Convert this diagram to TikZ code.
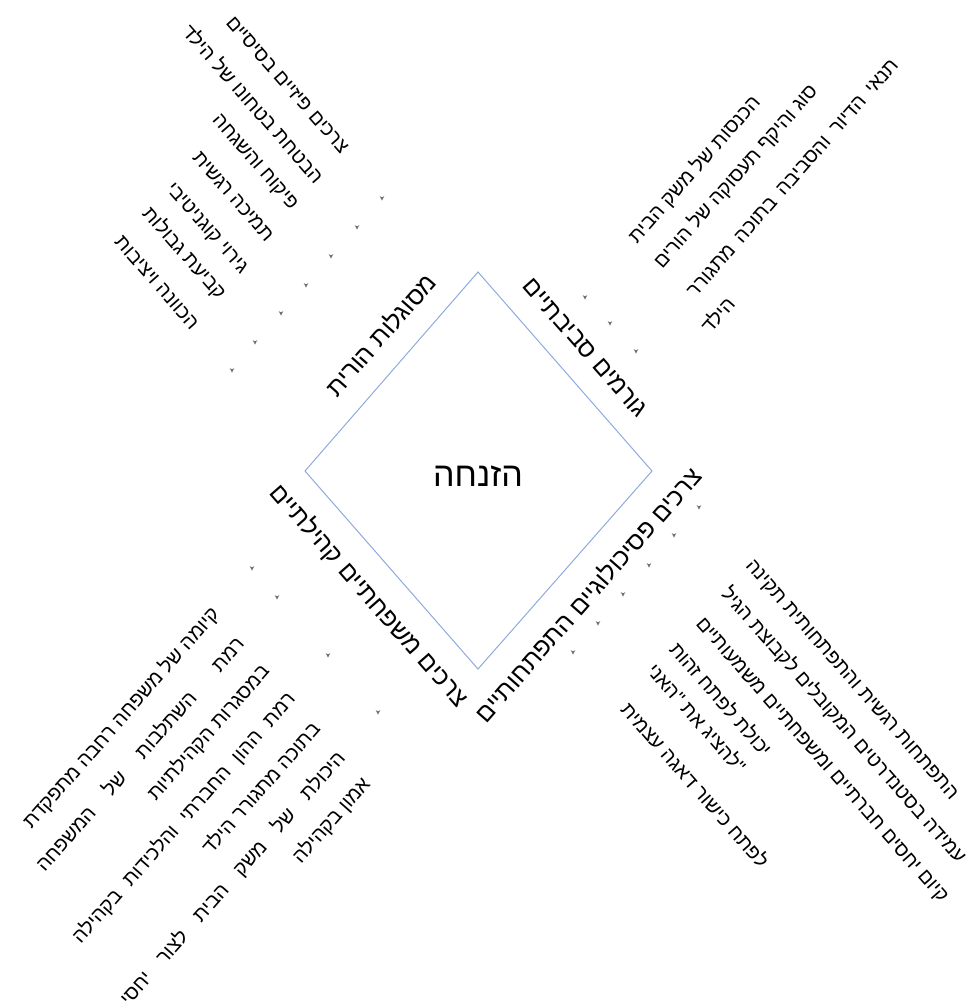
\documentclass[tikz,border=0pt]{standalone}
\usepackage{fontspec}
\newfontfamily\heb[Script=Hebrew]{Liberation Sans}
\TeXXeTstate=1
\newcommand\hb[1]{\beginR #1\endR}
\definecolor{diamblue}{HTML}{8FAADC}
\definecolor{bulgray}{HTML}{6F6F6F}
\begin{document}
\begin{tikzpicture}[x=1pt,y=-1pt,
  itemtxt/.style={font=\heb\fontsize{20}{20}\selectfont, inner sep=0pt, text height=14.3pt, text depth=0pt, anchor=east},
  downlist/.style={itemtxt, rotate=-48.7},
  uplist/.style={itemtxt, rotate=48.7},
  sidelabel/.style={font=\heb\fontsize{25}{25}\selectfont, inner sep=0pt, text height=17.9pt, text depth=0pt},
  centertxt/.style={font=\heb\fontsize{34}{34}\selectfont, inner sep=0pt, text height=24.3pt, text depth=0pt},
  diam/.style={draw=diamblue, line width=1pt},
  bul/.pic={\fill[bulgray] (0,2.6) -- (2.3,-1.9) -- (0,-0.7) -- (-2.3,-1.9) -- cycle;}
]
\useasboundingbox (0,0) rectangle (966,1005);

% diamond
\coordinate (T) at (478,272);
\coordinate (R) at (652,471);
\coordinate (B) at (478,669);
\coordinate (L) at (305,471);
\draw[diam] (T) -- (R) -- (B) -- (L) -- cycle;
\node[centertxt] (center) at (478,474) {\hb{הזנחה}};

% side labels
\node[sidelabel, rotate=48.7] (lblTL) at (381,335) {\hb{מסוגלות הורית}};
\node[sidelabel, rotate=-48.7] (lblTR) at (586,347) {\hb{גורמים סביבתיים}};
\node[sidelabel, rotate=48.7] (lblBR) at (588,595) {\hb{צרכים פסיכולוגיים התפתחותיים}};
\node[sidelabel, rotate=-48.7] (lblBL) at (370,595) {\hb{צרכים משפחתיים קהילתיים}};

% top-left list
\node[downlist] (tl1) at (346,150) {\hb{צרכים פיזיים בסיסיים}};
\node[downlist] (tl2) at (320,180) {\hb{הבטחת בטחונו של הילד}};
\node[downlist] (tl3) at (296,206) {\hb{פיקוח והשגחה}};
\node[downlist] (tl4) at (271,238) {\hb{תמיכה רגשית}};
\node[downlist] (tl5) at (246,270) {\hb{גירוי קוגניטיבי}};
\node[downlist] (tl6) at (223,296) {\hb{קביעת גבולות}};
\node[downlist] (tl7) at (196,326) {\hb{הכוונה ויציבות}};
\foreach \p in {(382,198),(357,227),(331,256),(306,285),(281,313),(255,342),(232,370)}
  \pic at \p {bul};

% top-right list
\node[uplist] (tr1) at (756,98) {\hb{הכנסות של משק הבית}};
\node[uplist] (tr2) at (813,87) {\hb{סוג והיקף תעסוקה של הורים}};
\node[uplist] (tr3) at (894,61) {\hb{תנאי\hspace{9pt}הדיור\hspace{9pt}והסביבה\hspace{9pt}בתוכה\hspace{9pt}מתגורר}};
\node[uplist] (tr4) at (731,300) {\hb{הילד}};
\foreach \p in {(585,297),(610,323),(636,351)}
  \pic at \p {bul};

% bottom-right list
\node[downlist] (br1) at (956,796) {\hb{התפתחות רגשית והתפתחותית תקינה}};
\node[downlist] (br2) at (963,860) {\hb{עמידה בסטנדרטים המקובלים לקבוצת הגיל}};
\node[downlist] (br3) at (946,899) {\hb{קיום יחסים חברתיים ומשפחתיים משמעותיים}};
\node[downlist] (br4) at (768,753) {\hb{יכולת לפתח זהות}};
\node[downlist] (br5) at (742,770) {\hb{"להציג את "האני}};
\node[downlist] (br6) at (765,865) {\hb{לפתח כישור דאגה עצמית}};
\foreach \p in {(699,507),(674,535),(649,565),(623,594),(598,623),(573,652)}
  \pic at \p {bul};

% bottom-left list
\node[uplist] (bl1) at (215,610) {\hb{קיומה של משפחה רחבה מתפקדת}};
\node[uplist] (bl2) at (240,640) {\hb{רמת\hspace{34pt}השתלבות\hspace{24pt}של\hspace{22pt}המשפחה}};
\node[uplist] (bl3) at (265,667) {\hb{במסגרות הקהילתיות}};
\node[uplist] (bl4) at (291,695) {\hb{רמת\hspace{12pt}ההון\hspace{12pt}החברתי\hspace{12pt}והלכידות\hspace{12pt}בקהילה}};
\node[uplist] (bl5) at (316,725) {\hb{בתוכה מתגורר הילד}};
\node[uplist] (bl6) at (341,754) {\hb{היכולת\hspace{18pt}של\hspace{18pt}משק\hspace{18pt}הבית\hspace{18pt}לצור\hspace{18pt}יחסי}};
\node[uplist] (bl7) at (366,780) {\hb{אמון בקהילה}};
\foreach \p in {(252,568),(277,597),(328,655),(378,712)}
  \pic at \p {bul};
\end{tikzpicture}
\end{document}
